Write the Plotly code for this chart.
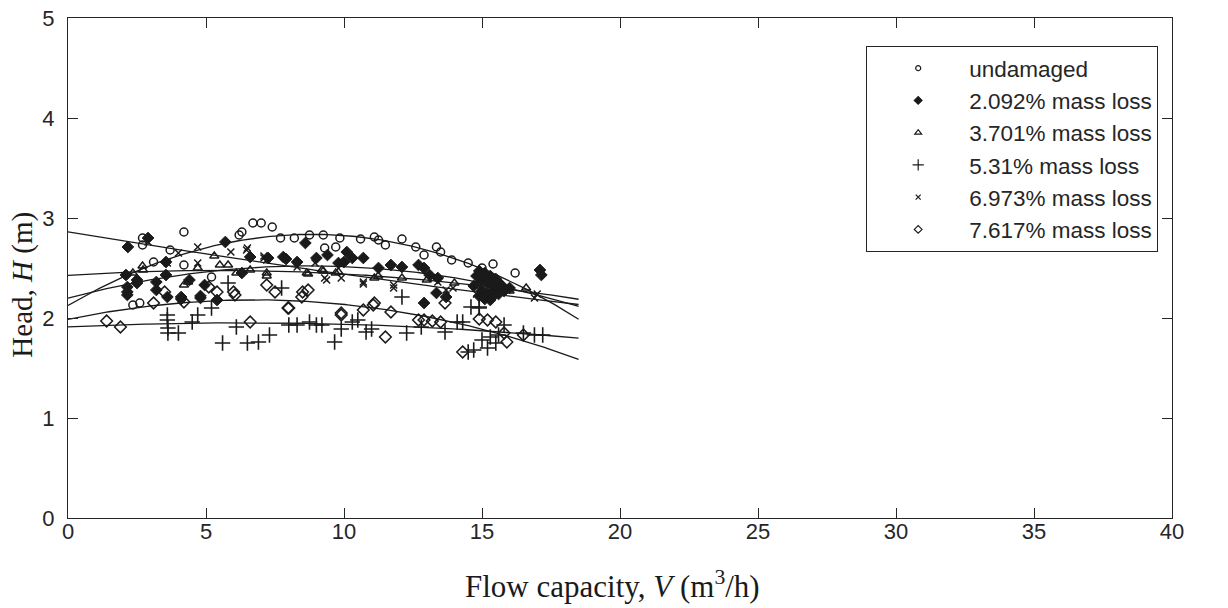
import numpy as np
import plotly.graph_objects as go

# ---------------- data ----------------
undamaged_x = [2.35, 2.6, 2.7, 2.7, 3.1, 3.7, 4.2, 4.2, 5.2, 6.2, 6.3, 6.7, 7.0, 7.4, 7.7, 8.2, 8.75, 9.25,
               9.3, 9.7, 9.85, 10.6, 11.1, 11.25, 11.5, 12.1, 12.6, 12.9, 13.35, 13.5, 13.9, 14.5, 15.0, 15.2,
               15.4, 15.6, 16.2]
undamaged_h = [2.13, 2.15, 2.80, 2.73, 2.56, 2.68, 2.86, 2.53, 2.41, 2.83, 2.86, 2.95, 2.95, 2.91, 2.80, 2.80, 2.83, 2.83,
               2.70, 2.71, 2.80, 2.79, 2.81, 2.78, 2.73, 2.79, 2.71, 2.63, 2.71, 2.66, 2.58, 2.55, 2.50, 2.38,
               2.54, 2.33, 2.45]

loss2092_x = [2.1, 2.15, 2.15, 2.15, 2.17, 2.5, 2.5, 2.9, 3.2, 3.2, 3.55, 3.55, 3.6, 4.1, 4.1, 4.4, 4.8, 4.8, 4.95, 5.4,
              5.7, 6.3, 6.6, 7.25, 7.8, 7.9, 8.3, 8.6, 9.0, 9.4, 9.8, 10.0, 10.1, 10.3, 10.7, 11.25, 11.7, 12.1, 12.7, 12.9,
              12.9, 13.1, 13.35, 13.4, 13.7,
              14.7, 14.8, 14.9, 14.9, 15.0, 15.0, 15.1, 15.1, 15.2, 15.2, 15.3, 15.3, 15.4, 15.4, 15.5, 15.5, 15.6, 15.7,
              15.8, 16.0, 17.1, 17.15]
loss2092_h = [2.43, 2.31, 2.26, 2.23, 2.71, 2.38, 2.35, 2.80, 2.36, 2.28, 2.56, 2.43, 2.21, 2.21, 2.19, 2.38, 2.20, 2.22, 2.33, 2.18,
              2.76, 2.45, 2.61, 2.60, 2.61, 2.59, 2.56, 2.75, 2.60, 2.63, 2.55, 2.56, 2.66, 2.60, 2.60, 2.50, 2.53, 2.51, 2.53, 2.50,
              2.15, 2.43, 2.25, 2.40, 2.21,
              2.32, 2.42, 2.22, 2.47, 2.27, 2.37, 2.19, 2.45, 2.25, 2.35, 2.18, 2.42, 2.22, 2.32, 2.27, 2.39, 2.24, 2.33,
              2.27, 2.30, 2.48, 2.43]

loss3701_x = [2.35, 2.7, 2.72, 4.2, 4.35, 4.7, 5.3, 5.5, 5.8, 6.1, 6.6, 7.2, 7.2, 8.65, 8.7, 9.2, 9.25, 9.7, 9.8, 11.1,
              11.24, 12.1, 13.0, 14.0, 14.8, 15.2, 15.6, 16.0, 16.6]
loss3701_h = [2.45, 2.52, 2.48, 2.33, 2.36, 2.50, 2.62, 2.53, 2.53, 2.45, 2.48, 2.45, 2.42, 2.45, 2.44, 2.48, 2.47, 2.45, 2.46, 2.40,
              2.42, 2.40, 2.38, 2.35, 2.32, 2.30, 2.30, 2.27, 2.30]

loss531_x = [3.6, 3.6, 3.62, 3.62, 4.0, 4.5, 4.7, 5.2, 5.6, 5.8, 6.1, 6.5, 6.9, 7.3, 7.74, 8.0, 8.3, 8.75, 9.0, 9.2,
             9.66, 9.9, 10.3, 10.5, 10.8, 11.0, 12.1, 12.27, 12.8, 13.66, 14.1, 14.3, 14.5, 14.6, 14.7, 14.9, 14.9, 15.0, 15.2, 15.3,
             15.5, 15.6, 15.8, 16.5, 16.9, 17.2]
loss531_h = [2.03, 1.98, 1.90, 1.85, 1.85, 1.96, 2.03, 2.10, 1.75, 2.35, 1.91, 1.75, 1.76, 1.83, 2.30, 1.93, 1.93, 1.96, 1.93, 1.93,
             1.76, 1.89, 1.96, 1.98, 1.86, 1.89, 2.21, 1.85, 1.91, 1.86, 1.96, 1.96, 1.66, 2.11, 1.68, 2.10, 2.11, 1.78, 1.70, 1.81,
             1.75, 1.83, 1.93, 1.85, 1.83, 1.83]

loss6973_x = [2.9, 3.6, 4.0, 4.7, 4.7, 5.9, 6.47, 6.5, 7.1, 7.1, 7.2, 8.3, 8.95, 9.3, 9.37, 9.9, 10.7, 10.7, 11.8, 11.8,
              13.2, 13.4, 13.7, 13.95, 14.8, 15.0, 15.3, 16.9, 17.0]
loss6973_h = [2.76, 2.55, 2.65, 2.71, 2.55, 2.66, 2.68, 2.70, 2.62, 2.60, 2.58, 2.51, 2.55, 2.40, 2.38, 2.40, 2.36, 2.34, 2.33, 2.30,
              2.40, 2.36, 2.28, 2.30, 2.24, 2.22, 2.22, 2.20, 2.24]

loss7617_x = [1.4, 1.9, 3.1, 3.5, 4.2, 5.1, 5.4, 6.0, 6.05, 6.6, 7.2, 7.5, 7.97, 8.0, 8.47, 8.5, 8.7, 9.9, 9.9,
              10.7, 11.06, 11.1, 11.5, 11.7, 12.7, 12.9, 13.2, 13.5, 13.66, 14.3, 14.9, 15.2, 15.5, 15.8, 15.9, 16.5]
loss7617_h = [1.97, 1.91, 2.15, 2.26, 2.16, 2.31, 2.26, 2.26, 2.23, 1.96, 2.33, 2.26, 2.10, 2.10, 2.21, 2.26, 2.28, 2.05, 2.03,
              2.08, 2.13, 2.15, 1.81, 2.06, 1.98, 1.98, 1.97, 1.96, 2.15, 1.66, 1.99, 1.98, 1.96, 1.85, 1.76, 1.83]

series_names = ["undamaged", "2.092% mass loss", "3.701% mass loss",
                "5.31% mass loss", "6.973% mass loss", "7.617% mass loss"]
x_ticks = [0, 5, 10, 15, 20, 25, 30, 35, 40]
y_ticks = [0, 1, 2, 3, 4, 5]
fit_range = [0, 18.5]

# ---------------- styling ----------------
data = [(undamaged_x, undamaged_h), (loss2092_x, loss2092_h), (loss3701_x, loss3701_h),
        (loss531_x, loss531_h), (loss6973_x, loss6973_h), (loss7617_x, loss7617_h)]
symbols = ["circle-open", "diamond", "triangle-up-open", "cross-thin-open", "x-thin-open", "diamond-open"]
sizes = [8, 9, 8, 11, 7, 9]
widths = [1.5, 1, 1.4, 1.6, 1.5, 1.5]
legend_sizes = [5, 6, 6, 8, 5, 6]
ink = "#1a1a1a"
axis_col = "#262626"
serif = "Liberation Serif, Times New Roman"

fig = go.Figure()

fit_x = np.linspace(fit_range[0], fit_range[1], 200)
for xs, hs in data:
    coef = np.polyfit(xs, hs, 2)
    fig.add_trace(go.Scatter(x=fit_x, y=np.polyval(coef, fit_x), mode="lines",
                             line=dict(color=ink, width=1.3), showlegend=False, hoverinfo="skip"))

for (xs, hs), sym, sz, lw in zip(data, symbols, sizes, widths):
    fig.add_trace(go.Scatter(x=xs, y=hs, mode="markers", showlegend=False,
                             marker=dict(symbol=sym, size=sz, color=ink,
                                         line=dict(color=ink, width=lw))))

for i, (name, sym, sz) in enumerate(zip(series_names, symbols, legend_sizes)):
    fig.add_trace(go.Scatter(x=[None], y=[None], mode="markers", name=name, legendgroup=f"g{i}",
                             marker=dict(symbol=sym, size=sz, color=ink,
                                         line=dict(color=ink, width=1.2))))

axis_common = dict(showgrid=False, zeroline=False, showline=True, linecolor=axis_col, linewidth=1,
                   mirror="ticks", ticks="inside", ticklen=10, tickwidth=1, tickcolor=axis_col,
                   tickfont=dict(family="Liberation Sans, Arial", size=22, color=axis_col))

fig.update_xaxes(range=[0, 40], tickvals=x_ticks, ticklabelstandoff=-6, **axis_common)
fig.update_yaxes(range=[0, 5], tickvals=y_ticks, ticklabelstandoff=8, **axis_common)

fig.add_annotation(text="Flow capacity, <i>V</i> (m<sup>3</sup>/h)", xref="paper", yref="paper",
                   x=0.4928, y=-0.132, xanchor="center", yanchor="middle", showarrow=False,
                   font=dict(family=serif, size=31, color=ink))
fig.add_annotation(text="Head, <i>H</i> (m)", xref="paper", yref="paper", textangle=-90,
                   x=-0.042, y=0.466, xanchor="center", yanchor="middle", showarrow=False,
                   font=dict(family=serif, size=29, color=ink))

fig.update_layout(
    width=1228, height=608,
    margin=dict(l=68, r=56, t=18, b=90, autoexpand=False),
    paper_bgcolor="white", plot_bgcolor="white",
    legend=dict(x=0.723, y=0.944, xanchor="left", yanchor="top",
                bgcolor="white", bordercolor=axis_col, borderwidth=1,
                font=dict(family="Liberation Sans, Arial", size=22.5, color=axis_col),
                itemwidth=92, tracegroupgap=0, traceorder="grouped"),
)

fig.write_html("out.html", config={"displayModeBar": False},
               post_script="document.body.style.margin='0';document.body.style.overflow='hidden';")
